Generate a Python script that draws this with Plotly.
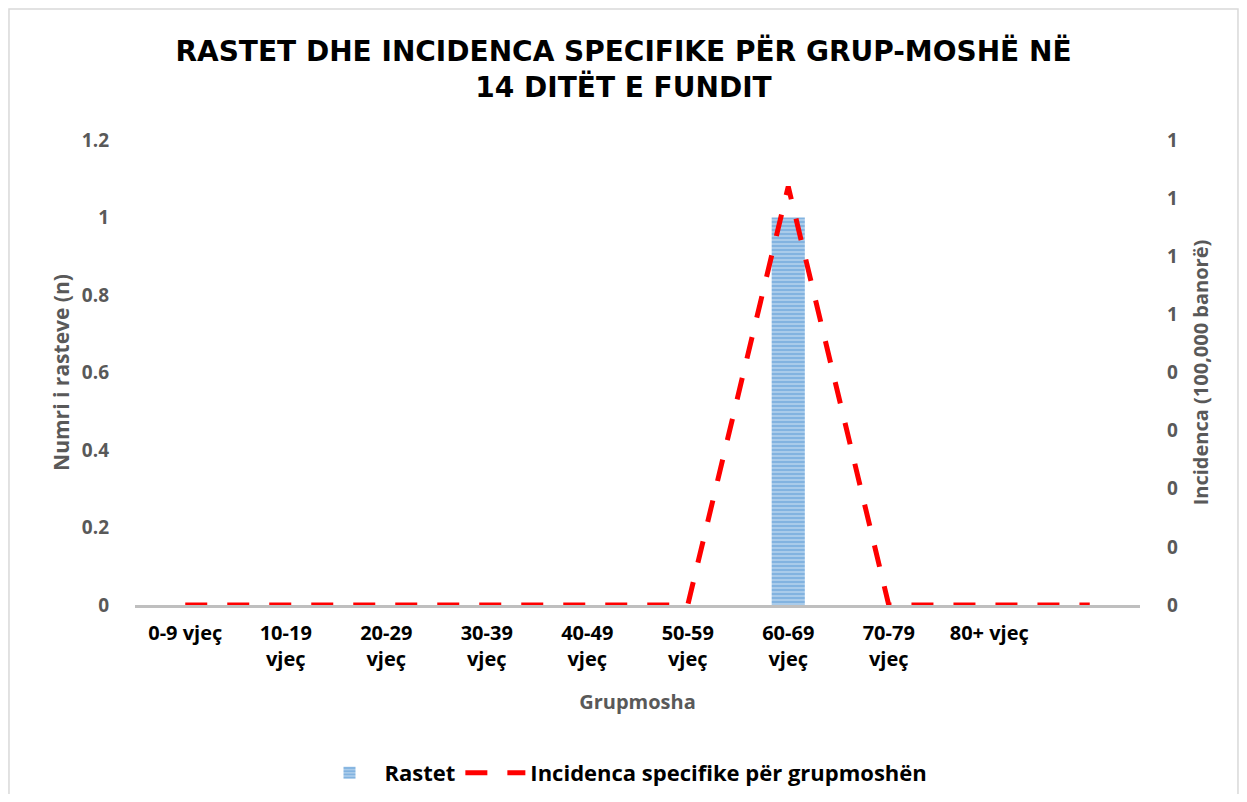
import plotly.graph_objects as go

# Data
age_groups = ["0-9 vjeç", "10-19<br>vjeç", "20-29<br>vjeç", "30-39<br>vjeç", "40-49<br>vjeç",
              "50-59<br>vjeç", "60-69<br>vjeç", "70-79<br>vjeç", "80+ vjeç", " "]
cases = [0, 0, 0, 0, 0, 0, 1, 0, 0, 0]
incidence = [0, 0, 0, 0, 0, 0, 0.72, 0, 0, 0]

left_ticks = [0, 0.2, 0.4, 0.6, 0.8, 1, 1.2]
right_ticks = [0, 0.1, 0.2, 0.3, 0.4, 0.5, 0.6, 0.7, 0.8]
right_ticktext = ["0", "0", "0", "0", "0", "1", "1", "1", "1"]

FONT = "Open Sans, Liberation Sans, sans-serif"
GRAY = "#595959"

fig = go.Figure()

fig.add_trace(go.Bar(
    x=age_groups,
    y=cases,
    name="Rastet",
    width=0.33,
    marker=dict(
        color="#A9CBEA",
        line=dict(width=0),
        pattern=dict(shape="-", fgcolor="#5B9BD5", size=4, solidity=0.5, fillmode="overlay"),
    ),
))

fig.add_trace(go.Scatter(
    x=age_groups,
    y=incidence,
    name="Incidenca specifike për grupmoshën",
    mode="lines",
    yaxis="y2",
    line=dict(color="#FF0000", width=5, dash="22px,20px"),
))

# page body has an 8px margin, so the figure is sized to fit inside the window
fig.update_layout(
    width=1231,
    height=786,
    paper_bgcolor="white",
    plot_bgcolor="white",
    font=dict(family=FONT, color="black", size=18),
    margin=dict(l=127, r=99, t=132, b=189),
    title=dict(
        text="<b>RASTET DHE INCIDENCA SPECIFIKE PËR GRUP-MOSHË NË<br>14 DITËT E FUNDIT</b>",
        x=0.5, xanchor="center", y=0.933, yanchor="top",
        font=dict(size=28, color="black", family="DejaVu Sans, sans-serif"),
    ),
    xaxis=dict(
        showgrid=False,
        showline=True,
        linecolor="#BFBFBF",
        linewidth=3,
        ticks="",
        automargin=False,
        ticklabelstandoff=8,
        tickfont=dict(size=20, color="black", family=FONT, weight="bold"),
        title=dict(text="Grupmosha", font=dict(size=20, color=GRAY, family=FONT, weight="bold"), standoff=24),
    ),
    yaxis=dict(
        range=[0, 1.2],
        tickvals=left_ticks,
        showgrid=False,
        zeroline=False,
        ticks="",
        automargin=False,
        ticklabelstandoff=25,
        tickfont=dict(size=19, color=GRAY, family=FONT, weight="bold"),
        title=dict(text="Numri i rasteve (n)", font=dict(size=21, color=GRAY, family=FONT, weight="bold"), standoff=6),
    ),
    yaxis2=dict(
        range=[0, 0.8],
        overlaying="y",
        side="right",
        tickvals=right_ticks,
        ticktext=right_ticktext,
        showgrid=False,
        zeroline=False,
        ticks="",
        automargin=False,
        ticklabelstandoff=26,
        tickfont=dict(size=19, color=GRAY, family=FONT, weight="bold"),
        title=dict(text="Incidenca (100,000 banorë)", font=dict(size=20, color=GRAY, family=FONT, weight="bold"), standoff=16),
    ),
    legend=dict(
        orientation="h",
        x=0.5, xanchor="center", xref="container",
        y=0.0267, yanchor="middle", yref="container",
        font=dict(size=22, color="black", family=FONT, weight="bold"),
        itemwidth=60,
    ),
    showlegend=True,
)

# thin chart border like the original
fig.add_shape(type="rect", xref="paper", yref="paper",
              x0=-0.1254, x1=1.0975, y0=-0.45, y1=1.2817,
              line=dict(color="#D9D9D9", width=1.5), layer="below")

fig.write_html("out.html")
